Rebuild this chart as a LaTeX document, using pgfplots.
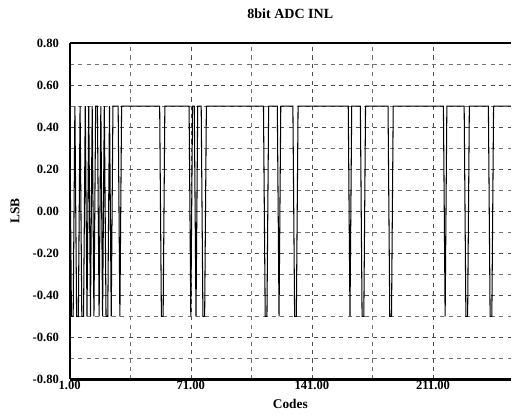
\documentclass[border=0pt]{standalone}
\usepackage{pgfplots}
\pgfplotsset{compat=1.18}
\usepackage{fontspec}
\setmainfont{Liberation Serif}

\begin{document}
\begin{tikzpicture}
\begin{axis}[
    scale only axis,
    width=11.05cm,
    height=8.425cm,
    xmin=1, xmax=256,
    ymin=-0.8, ymax=0.8,
    xtick={1,71,141,211},
    ytick={-0.8,-0.6,-0.4,-0.2,0,0.2,0.4,0.6,0.8},
    minor x tick num=1,
    minor y tick num=1,
    grid=both,
    major grid style={dashed, black!70, line width=0.4pt},
    minor grid style={dash pattern=on 3pt off 3pt, black!55, line width=0.4pt},
    axis x line=box,
    axis y line=left,
    axis line style={-, line width=1.6pt},
    tick style={draw=none},
    /pgf/number format/fixed,
    /pgf/number format/fixed zerofill,
    /pgf/number format/precision=2,
    /pgf/number format/assume math mode=true,
    tick label style={font=\fontsize{9}{10}\selectfont\bfseries},
    yticklabel style={xshift=-2pt},
    xticklabel style={yshift=2pt},
    title={8bit ADC INL},
    title style={font=\fontsize{10}{12}\selectfont\bfseries, yshift=8pt},
    xlabel={Codes},
    ylabel={LSB},
    label style={font=\fontsize{9.5}{11}\selectfont\bfseries},
    xlabel style={at={(axis description cs:0.5,-0.074)}, anchor=center},
    ylabel style={at={(axis description cs:-0.124,0.5)}, anchor=center},
]
\addplot[black, line width=0.75pt] coordinates {
    (1,0.5) (2,-0.5) (3,-0.5) (4,0.5) (5,-0.5) (6,-0.5) (7,0.5)
    (8,-0.5) (9,-0.5) (10,0.5) (11,-0.5) (12,0.5) (13,-0.5) (14,0.5)
    (15,-0.5) (16,0.5) (17,0.5) (18,-0.5) (19,0.5) (20,-0.5) (21,0.5)
    (22,-0.5) (23,-0.5) (24,0.5) (25,-0.5) (26,0.5) (29,0.5) (30,-0.5)
    (31,0.5)
    (53,0.5) (54,-0.5) (55,-0.5) (56,0.5)
    (70,0.5) (71,-0.5) (72,0.5) (73,0.5) (74,-0.5) (75,0.5)
    (77,0.5) (78,-0.5) (79,-0.5) (80,0.5)
    (113,0.5) (114,-0.5) (115,-0.5) (116,0.5)
    (121,0.5) (122,-0.5) (123,0.5)
    (130,0.5) (131,-0.5) (132,-0.5) (133,0.5)
    (162,0.5) (163,-0.5) (164,0.5)
    (169,0.5) (170,-0.5) (171,-0.5) (172,0.5)
    (185,0.5) (186,-0.5) (187,-0.5) (188,0.5)
    (217,0.5) (218,-0.5) (219,0.5)
    (229,0.5) (230,-0.5) (231,-0.5) (232,0.5)
    (243,0.5) (244,-0.5) (245,-0.5) (246,0.5)
    (256,0.5)
};
\coordinate (bl) at (axis description cs:-0.158,-0.107);
\coordinate (tr) at (axis description cs:1,1.128);
\end{axis}
% margins as in the reference
\path (bl) (tr);
\end{tikzpicture}
\end{document}
